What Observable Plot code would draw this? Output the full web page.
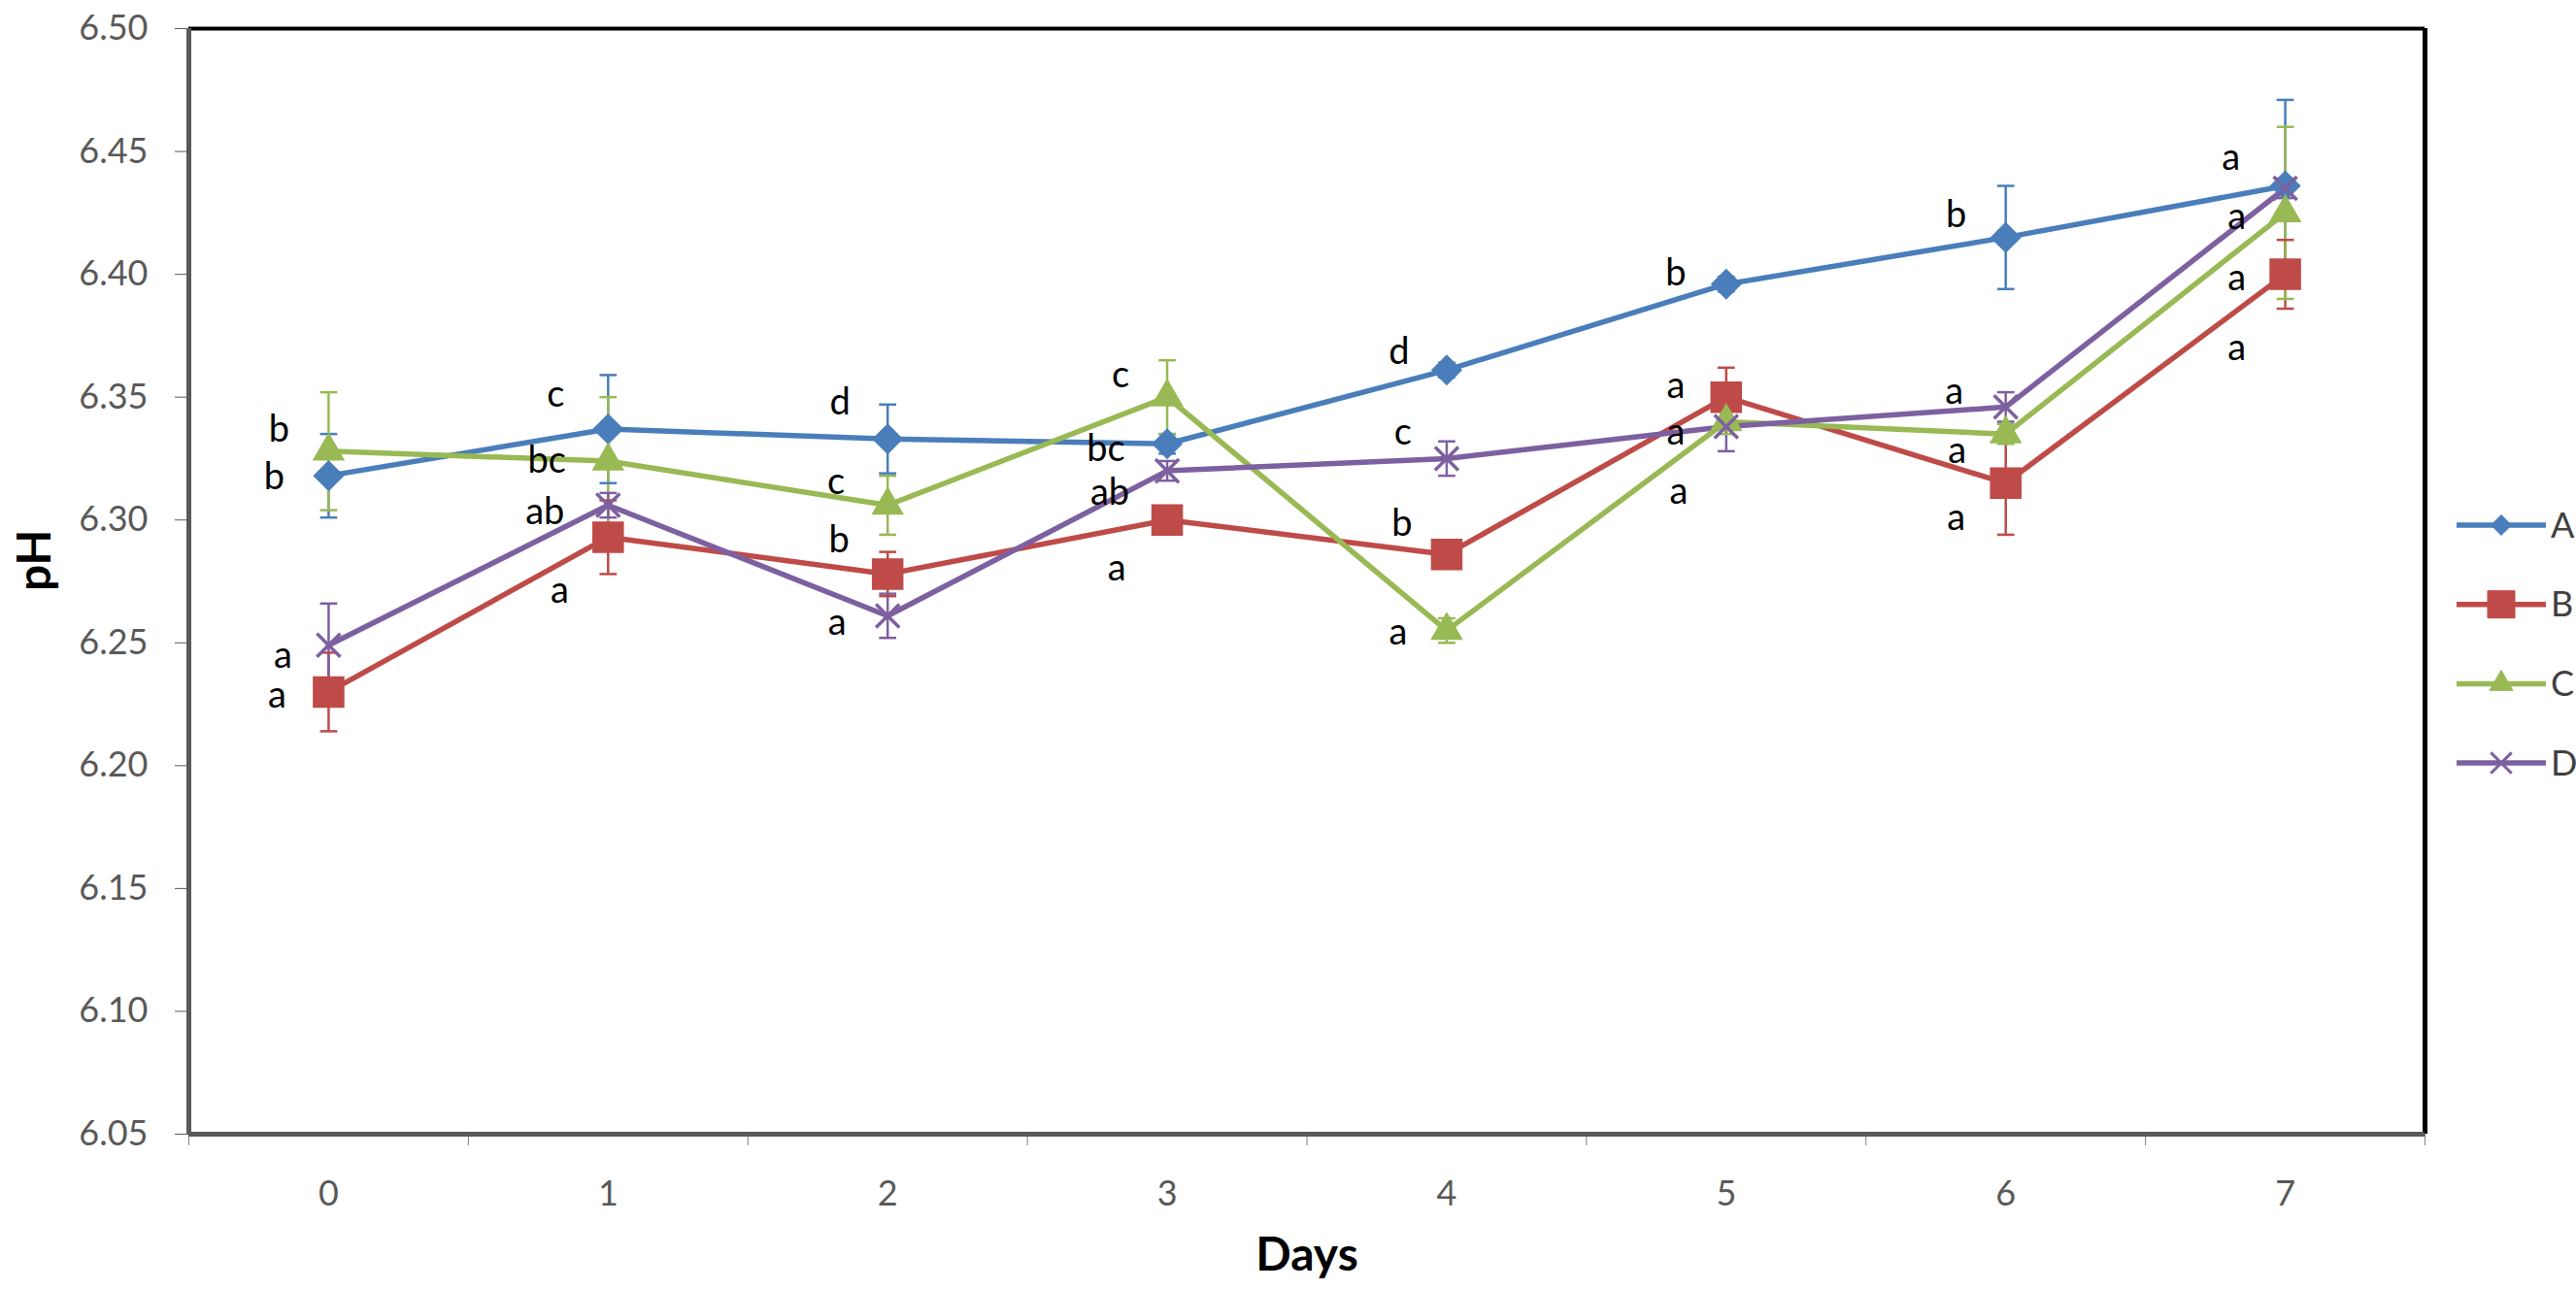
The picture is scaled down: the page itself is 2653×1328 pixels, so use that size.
<!DOCTYPE html>
<html><head><meta charset="utf-8">
<script src="https://cdn.jsdelivr.net/npm/d3@7"></script>
<script src="https://cdn.jsdelivr.net/npm/@observablehq/plot@0.6"></script>
<style>
html,body{margin:0;padding:0;background:#fff;}
#wrap{position:relative;width:2653px;height:1328px;font-family:Lato,"Open Sans",sans-serif;}
</style></head><body><div id="wrap"></div>
<script>
// ---------- data ----------
const days = [0, 1, 2, 3, 4, 5, 6, 7];
const series = ["A", "B", "C", "D"];
const phA = [6.318, 6.337, 6.333, 6.331, 6.361, 6.396, 6.415, 6.436];
const phB = [6.230, 6.293, 6.278, 6.300, 6.286, 6.350, 6.315, 6.400];
const phC = [6.328, 6.324, 6.306, 6.350, 6.255, 6.340, 6.335, 6.425];
const phD = [6.249, 6.306, 6.261, 6.320, 6.325, 6.338, 6.346, 6.435];
const sdA = [0.017, 0.022, 0.014, 0.004, 0.003, 0.003, 0.021, 0.035];
const sdB = [0.016, 0.015, 0.009, 0.003, 0.003, 0.012, 0.021, 0.014];
const sdC = [0.024, 0.026, 0.012, 0.015, 0.005, 0.005, 0.004, 0.035];
const sdD = [0.017, 0.005, 0.009, 0.004, 0.007, 0.010, 0.006, 0.004];
const lettersA = ["b", "c", "d", "bc", "d", "b", "b", "a"];
const lettersB = ["a", "a", "b", "a", "b", "a", "a", "a"];
const lettersC = ["b", "bc", "c", "c", "a", "a", "a", "a"];
const lettersD = ["a", "ab", "a", "ab", "c", "a", "a", "a"];
const yTicks = [6.05, 6.10, 6.15, 6.20, 6.25, 6.30, 6.35, 6.40, 6.45, 6.50];
const xTitle = "Days";
const yTitle = "pH";

// ---------- styles / layout ----------
const colors = ["#4A7EBB", "#BE4B48", "#98B954", "#7D60A0"];
const symbols = ["diamond2", "square", "triangle", "times"];
const markerR = [13.5, 17.5, 11.5, 11];
// label offsets (px) relative to each point, per series per day
const offA = [[-56,2],[-54,-35],[-49,-37],[-63,6],[-49,-18],[-52,-11],[-51,-23],[-56,-29]];
const offB = [[-53,4],[-50,55],[-50,-35],[-52,50],[-46,-31],[-52,-11],[-51,36],[-50,76]];
const offC = [[-51,-22],[-63,0],[-53,-24],[-48,-22],[-50,2],[-49,72],[-50,18],[-50,67]];
const offD = [[-47,11],[-65,7],[-52,7],[-59,23],[-45,-27],[-52,6],[-53,-15],[-50,30]];

const phs = [phA, phB, phC, phD];
const sds = [sdA, sdB, sdC, sdD];
const letters = [lettersA, lettersB, lettersC, lettersD];
const offs = [offA, offB, offC, offD];

const rows = series.flatMap((s, i) => days.map((d, j) => ({
  series: s, day: d, ph: phs[i][j], lo: phs[i][j] - sds[i][j], hi: phs[i][j] + sds[i][j],
  letter: letters[i][j], dx: offs[i][j][0], dy: offs[i][j][1]
})));

const xMin = days[0] - 0.5, xMax = days[days.length - 1] + 0.5;
const bounds = days.map(d => d - 0.5).concat([xMax]);
const cap = {draw(ctx, size) { const w = Math.sqrt(size) / 2; ctx.moveTo(-w, 0); ctx.lineTo(w, 0); }};

const markerMarks = series.map((s, i) => {
  const data = rows.filter(r => r.series === s);
  const isStroke = symbols[i] === "times";
  return Plot.dot(data, {
    x: "day", y: "ph", symbol: () => symbols[i], r: markerR[i],
    fill: isStroke ? "none" : colors[i],
    stroke: colors[i], strokeWidth: isStroke ? 3.5 : 1.5
  });
});

const labelMarks = rows.map(r => Plot.text([r], {
  x: "day", y: "ph", text: "letter", dx: r.dx, dy: r.dy,
  fontSize: 38, fill: "#000"
}));

const chart = Plot.plot({
  width: 2653, height: 1328,
  marginLeft: 194, marginRight: 156, marginTop: 29, marginBottom: 160,
  style: {fontFamily: "Lato, 'Open Sans', sans-serif", background: "#fff", overflow: "visible"},
  x: {domain: [xMin, xMax]},
  y: {domain: [yTicks[0], yTicks[yTicks.length - 1]]},
  color: {domain: series, range: colors},
  marks: [
    Plot.axisY({ticks: yTicks, tickFormat: d3.format(".2f"), tickSize: 14, tickPadding: 28,
      fontSize: 36, color: "#595959", label: null}),
    Plot.axisX({ticks: bounds, tickSize: 12, tickFormat: () => "", color: "#7f7f7f", label: null}),
    Plot.axisX({ticks: days, tickSize: 0, tickPadding: 48, fontSize: 36, color: "#595959",
      label: null, tickFormat: d => String(d)}),
    Plot.ruleY([yTicks[yTicks.length - 1]], {stroke: "#000", strokeWidth: 4}),
    Plot.ruleX([xMax], {stroke: "#000", strokeWidth: 5}),
    Plot.ruleY([yTicks[0]], {stroke: "#595959", strokeWidth: 5}),
    Plot.ruleX([xMin], {stroke: "#595959", strokeWidth: 5}),
    Plot.line(rows, {x: "day", y: "ph", z: "series", stroke: "series", strokeWidth: 5.5}),
    Plot.ruleX(rows, {x: "day", y1: "lo", y2: "hi", stroke: "series", strokeWidth: 2.5}),
    Plot.dot(rows, {x: "day", y: "hi", symbol: () => cap, r: 10, fill: "none", stroke: "series", strokeWidth: 2.5}),
    Plot.dot(rows, {x: "day", y: "lo", symbol: () => cap, r: 10, fill: "none", stroke: "series", strokeWidth: 2.5}),
    ...markerMarks,
    ...labelMarks,
    Plot.text([xTitle], {frameAnchor: "bottom", dy: 140, fontSize: 48, fontWeight: "bold", fill: "#000"}),
    Plot.text([yTitle], {frameAnchor: "left", dx: -158, dy: 10, rotate: -90, fontSize: 48, fontWeight: "bold", fill: "#000"})
  ]
});
document.getElementById("wrap").appendChild(chart);

// ---------- legend (right side) ----------
const legTop = 541, legStep = 81.7, legX1 = 2530, legX2 = 2622;
const legSymbols = [d3.symbolDiamond2, d3.symbolSquare, d3.symbolTriangle, d3.symbolTimes];
const legSizes = [281, 784, 250, 301];
const leg = d3.select("#wrap").append("svg")
  .attr("width", 2653).attr("height", 1328)
  .style("position", "absolute").style("left", "0px").style("top", "0px")
  .style("pointer-events", "none");
series.forEach((s, i) => {
  const y = legTop + i * legStep;
  leg.append("line").attr("x1", legX1).attr("x2", legX2).attr("y1", y).attr("y2", y)
    .attr("stroke", colors[i]).attr("stroke-width", 5.5);
  const isStroke = i === 3;
  leg.append("path").attr("d", d3.symbol(legSymbols[i], legSizes[i])())
    .attr("transform", `translate(${(legX1 + legX2) / 2},${y})`)
    .attr("fill", isStroke ? "none" : colors[i]).attr("stroke", colors[i])
    .attr("stroke-width", isStroke ? 3 : 1);
  leg.append("text").attr("x", legX2 + 5).attr("y", y).attr("dy", "0.35em")
    .attr("font-family", "Lato, 'Open Sans', sans-serif").attr("font-size", 36)
    .attr("fill", "#404040").text(s);
});
</script></body></html>
